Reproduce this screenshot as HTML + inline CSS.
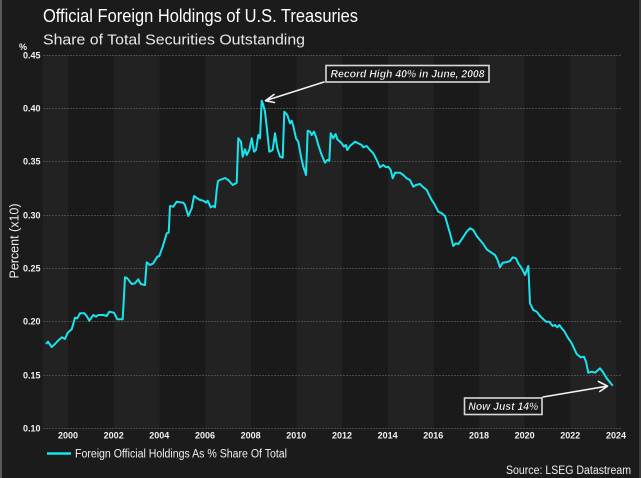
<!DOCTYPE html>
<html><head><meta charset="utf-8"><style>
html,body{margin:0;padding:0;background:#1b1b1b;}
svg{display:block;}
text{font-family:"Liberation Sans",Arial,sans-serif;}
</style></head><body>
<svg width="641" height="478" viewBox="0 0 641 478" xmlns="http://www.w3.org/2000/svg">
<rect x="0" y="0" width="641" height="478" fill="#1b1b1b"/>
<rect x="0" y="0" width="2" height="478" fill="#5a5a5a"/>
<rect x="639" y="0" width="2" height="478" fill="#3a3a3a"/>
<!-- bands -->
<rect x="43" y="55" width="25" height="373" fill="#222"/>
<rect x="68" y="55" width="46" height="373" fill="#1a1a1a"/>
<rect x="114" y="55" width="45.6" height="373" fill="#222"/>
<rect x="159.6" y="55" width="45.6" height="373" fill="#1a1a1a"/>
<rect x="205.3" y="55" width="45.7" height="373" fill="#222"/>
<rect x="251" y="55" width="45.6" height="373" fill="#1a1a1a"/>
<rect x="296.6" y="55" width="45.7" height="373" fill="#222"/>
<rect x="342.3" y="55" width="45.6" height="373" fill="#1a1a1a"/>
<rect x="387.9" y="55" width="45.7" height="373" fill="#222"/>
<rect x="433.6" y="55" width="45.6" height="373" fill="#1a1a1a"/>
<rect x="479.2" y="55" width="45.7" height="373" fill="#222"/>
<rect x="524.9" y="55" width="45.6" height="373" fill="#1a1a1a"/>
<rect x="570.5" y="55" width="45.7" height="373" fill="#222"/>
<!-- grid -->
<g stroke="#4a4a4a" stroke-width="1" stroke-dasharray="2,1">
<line x1="43" y1="55.5" x2="622" y2="55.5"/>
<line x1="43" y1="108.5" x2="622" y2="108.5"/>
<line x1="43" y1="161.5" x2="622" y2="161.5"/>
<line x1="43" y1="215.5" x2="622" y2="215.5"/>
<line x1="43" y1="268.5" x2="622" y2="268.5"/>
<line x1="43" y1="321.5" x2="622" y2="321.5"/>
<line x1="43" y1="375.5" x2="622" y2="375.5"/>
<line x1="43" y1="428.5" x2="622" y2="428.5"/>
</g>
<!-- titles -->
<text x="43" y="22" font-size="18" fill="#fff" textLength="315" lengthAdjust="spacingAndGlyphs">Official Foreign Holdings of U.S. Treasuries</text>
<text x="43" y="44.5" font-size="15" fill="#e8e8e8" textLength="262" lengthAdjust="spacingAndGlyphs">Share of Total Securities Outstanding</text>
<!-- y labels -->
<g font-size="9" font-weight="bold" fill="#f0f0f0" text-anchor="end">
<text x="27" y="50">%</text>
<text x="40.5" y="58.5">0.45</text>
<text x="40.5" y="111.5">0.40</text>
<text x="40.5" y="164.5">0.35</text>
<text x="40.5" y="218.5">0.30</text>
<text x="40.5" y="271.5">0.25</text>
<text x="40.5" y="324.5">0.20</text>
<text x="40.5" y="378.5">0.15</text>
<text x="40.5" y="431.5">0.10</text>
</g>
<text transform="translate(18.5,241) rotate(-90)" font-size="12.5" fill="#eee" text-anchor="middle">Percent (x10)</text>
<!-- x labels -->
<g font-size="9" font-weight="bold" fill="#f0f0f0" text-anchor="middle">
<text x="68" y="438.5">2000</text>
<text x="113.7" y="438.5">2002</text>
<text x="159.3" y="438.5">2004</text>
<text x="205" y="438.5">2006</text>
<text x="250.6" y="438.5">2008</text>
<text x="296.3" y="438.5">2010</text>
<text x="342" y="438.5">2012</text>
<text x="387.6" y="438.5">2014</text>
<text x="433.3" y="438.5">2016</text>
<text x="479" y="438.5">2018</text>
<text x="524.6" y="438.5">2020</text>
<text x="570.3" y="438.5">2022</text>
<text x="616" y="438.5">2024</text>
</g>
<!-- series -->
<polyline fill="none" stroke="#19e4ee" stroke-width="2" stroke-linejoin="round" points="46,344 48,341.7 51.7,347 55,344 58,340.7 61.7,337.3 65,339 67.7,332.7 71.7,329.3 75,317.7 77.3,318.3 80,313.3 84.3,313.3 86.7,316 89.3,320.7 93.3,315 96,316.7 98.3,315 103.3,315 106.7,316 109.3,311.7 114,312.7 117.3,319.3 122.7,319.3 125,277.3 127.3,278.3 131.7,284 135,283.3 138.3,279.3 140.7,284 145,285 146.7,262.3 150,265 153.3,263.3 157.3,256.7 159.3,256 162.7,246.7 166.7,233.3 168.7,232.7 170,206 173.3,206.7 176.7,201.7 183.3,202.7 185,205 188.3,216 191.7,208.3 194,196 197.3,198.3 200,200 203.3,200.7 206,202.7 207.7,200.7 210.7,207.3 213.3,206 215,207.3 216.7,190 218,181 220,180 225,178 228.3,180 232.7,185 236.7,182.7 238.3,138.3 241,141.7 242.7,156.7 245,149.3 246.7,155 249.3,150 251.7,138.3 254,151.7 256,150 258.3,135 260,138.3 261.7,100.7 263.3,105 265,111.7 266.7,126.7 269.3,151.7 272.7,150 275,133.3 277.3,148.3 280,156.7 282.7,157.7 284.3,111.7 287.3,115 290,123.3 291.7,120.7 293.3,126 296,138.3 298.3,141.7 301,156.7 303.3,166.7 306,175 307.7,130.7 310,131.7 311.7,135 314,131.7 316,136.7 318.3,145 321.7,155 325,162.7 327.3,160 329.3,160.7 330.7,133.3 333.3,138.3 335.7,134 337.3,139.3 341.7,143.3 344,146.7 346,145 347.3,150 350,146 355,141.7 358.3,143.3 361.7,145 363.3,147.3 366.7,146 370,150 373.3,153.3 376.7,160 380,167.3 383.3,165 386,167.3 388.3,166.7 390.7,170 392.7,178.3 395,172.7 400,172.7 403.3,175 406.7,178.3 410,180 413.3,186.7 416,185 420,184 422.7,186.7 426.7,190 430,196.7 431.7,200 434,203.3 438.3,211.7 441.7,213.3 445,216 450,233.3 453.3,246 456,243.3 458.3,244 461.7,239.3 466.7,231.7 470,228.3 473.3,230 476.7,236 480,240 483.3,244 486.7,249.3 490,251.7 495,255 497.3,259.3 500,267.3 502.7,262.7 507.3,262 510,261 512.7,257.3 516,258.3 518.3,263.3 521.7,268.3 525,275 528.3,266 530,303.3 533.3,310 536.7,311.7 540,316 546,321.7 549.3,321.7 552.7,326 555,325 557.3,327.3 559.3,325 561.7,328.3 564,330.7 567.3,336.7 571.7,343.3 576.7,354 580.7,357.3 584,356.7 586,361.7 588.3,372.7 591.7,371.7 595,372.7 597.3,370.7 600,368.3 602.7,371.7 606.7,378.3 612.7,385.7"/>
<!-- annotation 1 -->
<g stroke="#f2f2f2" stroke-width="1.6" fill="none" stroke-linecap="round" stroke-linejoin="round">
<line x1="324" y1="82" x2="266" y2="100.5"/>
<polyline points="274,94.5 265.5,100.7 274.5,102.5"/>
<line x1="543" y1="397" x2="607" y2="386.2"/>
<polyline points="598.5,381.5 607.5,386.1 599.8,391.5"/>
</g>
<rect x="326" y="65.5" width="163" height="16.5" fill="#1a1a1a" stroke="#d8d8d8" stroke-width="1.6"/>
<text x="407.5" y="77.5" font-size="11" font-weight="bold" font-style="italic" fill="#fff" text-anchor="middle" textLength="154" lengthAdjust="spacingAndGlyphs" stroke="#000" stroke-width="0.3">Record High 40% in June, 2008</text>
<rect x="464.5" y="398" width="77.5" height="16.5" fill="#1a1a1a" stroke="#d8d8d8" stroke-width="1.6"/>
<text x="503.3" y="410" font-size="11" font-weight="bold" font-style="italic" fill="#fff" text-anchor="middle" textLength="70" lengthAdjust="spacingAndGlyphs" stroke="#000" stroke-width="0.3">Now Just 14%</text>
<!-- legend -->
<line x1="47" y1="453.5" x2="71" y2="453.5" stroke="#19e4ee" stroke-width="2.5"/>
<text x="75" y="457.5" font-size="11.5" fill="#eee" textLength="212" lengthAdjust="spacingAndGlyphs">Foreign Official Holdings As % Share Of Total</text>
<text x="631" y="474" font-size="11.5" fill="#eee" text-anchor="end" textLength="125" lengthAdjust="spacingAndGlyphs">Source: LSEG Datastream</text>
</svg>
</body></html>
